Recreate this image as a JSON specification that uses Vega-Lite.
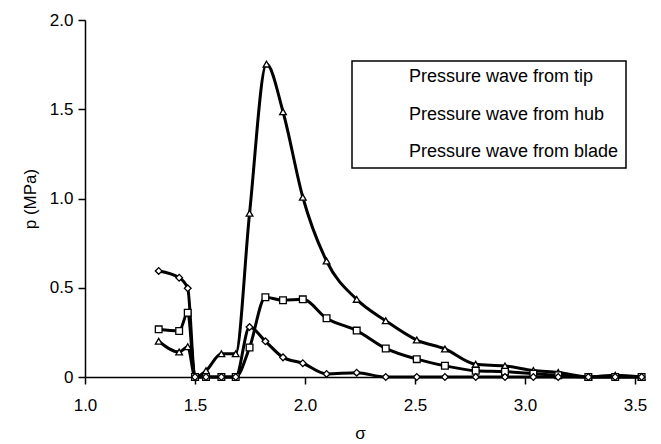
{
  "$schema": "https://vega.github.io/schema/vega-lite/v6.json",
  "width": 550,
  "height": 357,
  "autosize": {"type": "none"},
  "padding": {"left": 85, "top": 20, "right": 26, "bottom": 67},
  "background": "white",
  "config": {
    "view": {"stroke": null},
    "font": "Liberation Sans",
    "legend": {"strokeWidth": 1.5},
    "axis": {
      "domainColor": "black",
      "domainWidth": 1.5,
      "tickColor": "black",
      "tickWidth": 1.5,
      "tickSize": 7,
      "grid": false,
      "labelFlush": false,
      "labelFont": "Liberation Sans",
      "labelFontSize": 17,
      "labelColor": "black",
      "titleFont": "Liberation Sans",
      "titleFontSize": 17,
      "titleFontWeight": "normal",
      "titleColor": "black"
    }
  },
  "data": {
    "values": [
      {"series": "Pressure wave from tip", "sigma": 1.335, "p": 0.2},
      {"series": "Pressure wave from tip", "sigma": 1.428, "p": 0.14},
      {"series": "Pressure wave from tip", "sigma": 1.467, "p": 0.17},
      {"series": "Pressure wave from tip", "sigma": 1.5, "p": 0.0},
      {"series": "Pressure wave from tip", "sigma": 1.55, "p": 0.035},
      {"series": "Pressure wave from tip", "sigma": 1.62, "p": 0.13},
      {"series": "Pressure wave from tip", "sigma": 1.685, "p": 0.13},
      {"series": "Pressure wave from tip", "sigma": 1.748, "p": 0.917},
      {"series": "Pressure wave from tip", "sigma": 1.825, "p": 1.753},
      {"series": "Pressure wave from tip", "sigma": 1.9, "p": 1.486},
      {"series": "Pressure wave from tip", "sigma": 1.99, "p": 1.007},
      {"series": "Pressure wave from tip", "sigma": 2.098, "p": 0.65},
      {"series": "Pressure wave from tip", "sigma": 2.235, "p": 0.435},
      {"series": "Pressure wave from tip", "sigma": 2.367, "p": 0.315},
      {"series": "Pressure wave from tip", "sigma": 2.508, "p": 0.207},
      {"series": "Pressure wave from tip", "sigma": 2.636, "p": 0.157},
      {"series": "Pressure wave from tip", "sigma": 2.776, "p": 0.071},
      {"series": "Pressure wave from tip", "sigma": 2.909, "p": 0.062},
      {"series": "Pressure wave from tip", "sigma": 3.038, "p": 0.036},
      {"series": "Pressure wave from tip", "sigma": 3.151, "p": 0.025},
      {"series": "Pressure wave from tip", "sigma": 3.288, "p": 0.0},
      {"series": "Pressure wave from tip", "sigma": 3.41, "p": 0.01},
      {"series": "Pressure wave from tip", "sigma": 3.53, "p": 0.0},
      {"series": "Pressure wave from hub", "sigma": 1.335, "p": 0.267},
      {"series": "Pressure wave from hub", "sigma": 1.428, "p": 0.258},
      {"series": "Pressure wave from hub", "sigma": 1.467, "p": 0.36},
      {"series": "Pressure wave from hub", "sigma": 1.5, "p": 0.0},
      {"series": "Pressure wave from hub", "sigma": 1.55, "p": 0.0},
      {"series": "Pressure wave from hub", "sigma": 1.62, "p": 0.0},
      {"series": "Pressure wave from hub", "sigma": 1.685, "p": 0.0},
      {"series": "Pressure wave from hub", "sigma": 1.748, "p": 0.165},
      {"series": "Pressure wave from hub", "sigma": 1.82, "p": 0.447},
      {"series": "Pressure wave from hub", "sigma": 1.9, "p": 0.43},
      {"series": "Pressure wave from hub", "sigma": 1.99, "p": 0.435},
      {"series": "Pressure wave from hub", "sigma": 2.098, "p": 0.329},
      {"series": "Pressure wave from hub", "sigma": 2.235, "p": 0.26},
      {"series": "Pressure wave from hub", "sigma": 2.367, "p": 0.16},
      {"series": "Pressure wave from hub", "sigma": 2.508, "p": 0.1},
      {"series": "Pressure wave from hub", "sigma": 2.636, "p": 0.063},
      {"series": "Pressure wave from hub", "sigma": 2.776, "p": 0.035},
      {"series": "Pressure wave from hub", "sigma": 2.909, "p": 0.03},
      {"series": "Pressure wave from hub", "sigma": 3.038, "p": 0.018},
      {"series": "Pressure wave from hub", "sigma": 3.151, "p": 0.01},
      {"series": "Pressure wave from hub", "sigma": 3.288, "p": 0.0},
      {"series": "Pressure wave from hub", "sigma": 3.41, "p": 0.0},
      {"series": "Pressure wave from hub", "sigma": 3.53, "p": 0.0},
      {"series": "Pressure wave from blade", "sigma": 1.335, "p": 0.594},
      {"series": "Pressure wave from blade", "sigma": 1.428, "p": 0.556},
      {"series": "Pressure wave from blade", "sigma": 1.467, "p": 0.497},
      {"series": "Pressure wave from blade", "sigma": 1.5, "p": 0.0},
      {"series": "Pressure wave from blade", "sigma": 1.55, "p": 0.0},
      {"series": "Pressure wave from blade", "sigma": 1.62, "p": 0.0},
      {"series": "Pressure wave from blade", "sigma": 1.685, "p": 0.0},
      {"series": "Pressure wave from blade", "sigma": 1.748, "p": 0.28},
      {"series": "Pressure wave from blade", "sigma": 1.82, "p": 0.2},
      {"series": "Pressure wave from blade", "sigma": 1.9, "p": 0.11},
      {"series": "Pressure wave from blade", "sigma": 1.99, "p": 0.077},
      {"series": "Pressure wave from blade", "sigma": 2.098, "p": 0.017},
      {"series": "Pressure wave from blade", "sigma": 2.235, "p": 0.024},
      {"series": "Pressure wave from blade", "sigma": 2.367, "p": 0.0},
      {"series": "Pressure wave from blade", "sigma": 2.508, "p": 0.0},
      {"series": "Pressure wave from blade", "sigma": 2.636, "p": 0.0},
      {"series": "Pressure wave from blade", "sigma": 2.776, "p": 0.0},
      {"series": "Pressure wave from blade", "sigma": 2.909, "p": 0.0},
      {"series": "Pressure wave from blade", "sigma": 3.038, "p": 0.0},
      {"series": "Pressure wave from blade", "sigma": 3.151, "p": 0.0},
      {"series": "Pressure wave from blade", "sigma": 3.288, "p": 0.0},
      {"series": "Pressure wave from blade", "sigma": 3.41, "p": 0.0},
      {"series": "Pressure wave from blade", "sigma": 3.53, "p": 0.0}
    ]
  },
  "encoding": {
    "x": {
      "field": "sigma",
      "type": "quantitative",
      "scale": {"domain": [1, 3.5], "nice": false, "zero": false},
      "axis": {
        "title": "σ",
        "values": [1, 1.5, 2, 2.5, 3, 3.5],
        "format": ".1f",
        "labelPadding": 13,
        "titlePadding": 12
      }
    },
    "y": {
      "field": "p",
      "type": "quantitative",
      "scale": {"domain": [0, 2], "nice": false},
      "axis": {
        "title": "p (MPa)",
        "values": [0, 0.5, 1, 1.5, 2],
        "labelExpr": "datum.value == 0 ? '0' : format(datum.value, '.1f')",
        "labelPadding": 5,
        "titlePadding": 10
      }
    }
  },
  "layer": [
    {
      "mark": {"type": "line", "interpolate": "monotone", "stroke": "black", "strokeWidth": 3, "clip": false},
      "encoding": {"detail": {"field": "series", "type": "nominal"}}
    },
    {
      "mark": {"type": "point", "filled": true, "fill": "white", "stroke": "black", "strokeWidth": 1.3, "size": 45, "opacity": 1, "clip": false},
      "encoding": {
        "shape": {
          "field": "series",
          "type": "nominal",
          "scale": {
            "domain": ["Pressure wave from tip", "Pressure wave from hub", "Pressure wave from blade"],
            "range": ["triangle-up", "square", "diamond"]
          },
          "legend": {
            "orient": "none",
            "legendX": 267,
            "legendY": 41,
            "title": null,
            "strokeColor": "black",
            "fillColor": "white",
            "padding": 7,
            "symbolSize": 70,
            "symbolStrokeWidth": 1.3,
            "symbolStrokeColor": "black",
            "symbolFillColor": "white",
            "symbolOffset": 13,
            "labelOffset": 19,
            "labelFont": "Liberation Sans",
            "labelFontSize": 18,
            "labelColor": "black",
            "labelLimit": 400,
            "rowPadding": 19.5
          }
        }
      }
    }
  ]
}
